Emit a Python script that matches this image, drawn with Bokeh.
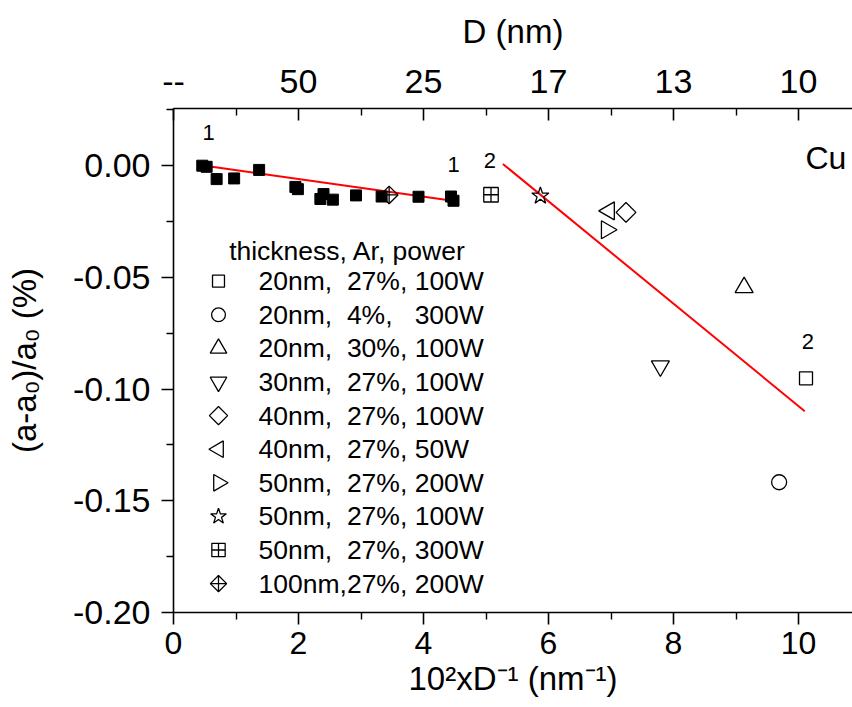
import math
from bokeh.plotting import figure
from bokeh.models import (LinearAxis, FixedTicker, Range1d,
                          NumeralTickFormatter, ColumnDataSource)
from bokeh.embed import file_html
from bokeh.resources import INLINE
from bokeh.core.properties import value

FONT = "Liberation Sans"
NB = "\u00a0"  # non-breaking space keeps the column alignment of the legend text

# ---------------- data ----------------
x_ticks = [0, 2, 4, 6, 8, 10]
x_minor = [1, 3, 5, 7, 9]
top_tick_labels = ["--", "50", "25", "17", "13", "10"]
y_ticks = [-0.20, -0.15, -0.10, -0.05, 0.00]
y_minor = [-0.175, -0.125, -0.075, -0.025, 0.025]

x_title = "10²xD⁻¹ (nm⁻¹)"
y_title = "(a-a₀)/a₀ (%)"
top_title = "D (nm)"

# region 1 (filled squares)
s1_x = [0.46, 0.53, 0.69, 0.97, 1.37, 1.95, 1.99, 2.35, 2.40, 2.55, 2.92, 3.33, 3.92, 4.44, 4.48]
s1_y = [0.0000, -0.0005, -0.0060, -0.0057, -0.0019, -0.0095, -0.0105, -0.0149, -0.0127,
        -0.0152, -0.0133, -0.0138, -0.0139, -0.0138, -0.0157]

# linear fits
fit1_x = [0.56, 4.55]
fit1_y = [-0.0003, -0.0160]
fit2_x = [5.27, 10.10]
fit2_y = [0.0008, -0.1099]

# samples (thickness, Ar, power)
legend_title = "thickness, Ar, power"
series_labels = ["20nm, " + NB + "27%, 100W", "20nm, " + NB + "4%, " + NB + NB + "300W",
                 "20nm, " + NB + "30%, 100W", "30nm, " + NB + "27%, 100W",
                 "40nm, " + NB + "27%, 100W", "40nm, " + NB + "27%, 50W",
                 "50nm, " + NB + "27%, 200W", "50nm, " + NB + "27%, 100W",
                 "50nm, " + NB + "27%, 300W", "100nm,27%, 200W"]
series_x = [10.12, 9.69, 9.13, 7.79, 7.24, 6.97, 6.93, 5.87, 5.08, 3.45]
series_y = [-0.0952, -0.1417, -0.0545, -0.0897, -0.0209, -0.0202, -0.0287, -0.0135, -0.0130, -0.0131]

# annotations
annot_text = ["1", "1", "2", "2"]
annot_x = [0.56, 4.48, 5.06, 10.15]
annot_y = [0.0149, 0.0004, 0.0022, -0.0788]
element = "Cu"

# ---------------- styles / layout ----------------
series_marker = ["square", "circle", "triangle", "inverted_triangle", "square",
                 "triangle", "triangle", "star", "square_cross", "square"]
series_angle = [0, 0, 0, 0, math.pi / 4, math.pi / 2, -math.pi / 2, 0, 0, math.pi / 4]
series_size = [13, 15, 18, 18, 14, 18, 18, 18, 14.5, 12.5]

X_END = 10.864
Y_START, Y_END = -0.2, 0.0256

# legend layout (data units)
LEG_MARK_X = 0.72
LEG_TEXT_X = 1.36
LEG_Y0 = -0.0517
LEG_DY = -0.01504
LEG_TITLE_X = 0.89
LEG_TITLE_Y = -0.0381

p = figure(width=852, height=707,
           x_range=Range1d(0, X_END), y_range=Range1d(Y_START, Y_END),
           output_backend="svg", toolbar_location=None,
           min_border_left=173, min_border_right=0, min_border_top=108, min_border_bottom=95)
p.outline_line_color = None
p.xgrid.grid_line_color = None
p.ygrid.grid_line_color = None
p.background_fill_color = "white"
p.border_fill_color = "white"


def style_axis(ax, tick_in, tick_out, minor_in, minor_out, label_px, title_px):
    ax.axis_line_width = 1.6
    ax.axis_line_color = "black"
    ax.major_tick_line_width = 1.6
    ax.minor_tick_line_width = 1.4
    ax.major_tick_in = tick_in
    ax.major_tick_out = tick_out
    ax.minor_tick_in = minor_in
    ax.minor_tick_out = minor_out
    ax.major_label_text_font = FONT
    ax.major_label_text_font_size = label_px
    ax.major_label_text_color = "black"
    ax.axis_label_text_font = FONT
    ax.axis_label_text_font_size = title_px
    ax.axis_label_text_font_style = "normal"
    ax.axis_label_text_color = "black"


xb = p.below[0]
xb.ticker = FixedTicker(ticks=x_ticks, minor_ticks=x_minor)
xb.axis_label = x_title
style_axis(xb, 0, 12, 0, 7, "32px", "33px")
xb.major_label_standoff = 7
xb.axis_label_standoff = 3

yl = p.left[0]
yl.ticker = FixedTicker(ticks=y_ticks, minor_ticks=y_minor)
yl.formatter = NumeralTickFormatter(format="0.00")
yl.axis_label = y_title
style_axis(yl, 0, 12, 0, 7, "34px", "33px")
yl.major_label_standoff = 11
yl.axis_label_standoff = 27

xt = LinearAxis(ticker=FixedTicker(ticks=x_ticks, minor_ticks=x_minor),
                major_label_overrides={t: l for t, l in zip(x_ticks, top_tick_labels)},
                axis_label=top_title)
style_axis(xt, 12, 0, 7, 0, "34px", "33px")
xt.major_label_standoff = 16
xt.axis_label_standoff = 17
p.add_layout(xt, "above")

# fits
p.line(fit1_x, fit1_y, line_color="red", line_width=2)
p.line(fit2_x, fit2_y, line_color="red", line_width=2)

# region-1 points
p.scatter(s1_x, s1_y, marker="square", size=11, fill_color="black", line_color="black")

# open symbols + hand-built legend
n = len(series_labels)
leg_y = [LEG_Y0 + LEG_DY * i for i in range(n)]
for i in range(n):
    src = ColumnDataSource(dict(x=[series_x[i], LEG_MARK_X], y=[series_y[i], leg_y[i]],
                                s=[series_size[i], series_size[i] * 0.92]))
    p.scatter("x", "y", source=src, marker=series_marker[i], size="s",
              angle=series_angle[i], fill_color=None, line_color="black", line_width=1.3)
    if i == n - 1:
        src2 = ColumnDataSource(dict(x=[series_x[i], LEG_MARK_X], y=[series_y[i], leg_y[i]],
                                     s=[series_size[i] * 1.41, series_size[i] * 0.92 * 1.41]))
        p.scatter("x", "y", source=src2, marker="cross", size="s",
                  line_color="black", line_width=1.3)

p.text(x=[LEG_TEXT_X] * n, y=leg_y, text=series_labels, text_font=value(FONT),
       text_font_size="26.5px", text_baseline="middle", text_align="left", text_color="black")
p.text(x=[LEG_TITLE_X], y=[LEG_TITLE_Y], text=[legend_title], text_font=value(FONT),
       text_font_size="26.5px", text_baseline="middle", text_align="left", text_color="black")

# curve numbers
p.text(x=annot_x, y=annot_y, text=annot_text, text_font=value(FONT), text_font_size="22px",
       text_align="center", text_baseline="middle", text_color="black")

# element label
p.text(x=[10.11], y=[0.0035], text=[element], text_font=value(FONT), text_font_size="32px",
       text_align="left", text_baseline="alphabetic", text_color="black")

open("out.html", "w").write(file_html(p, INLINE))
